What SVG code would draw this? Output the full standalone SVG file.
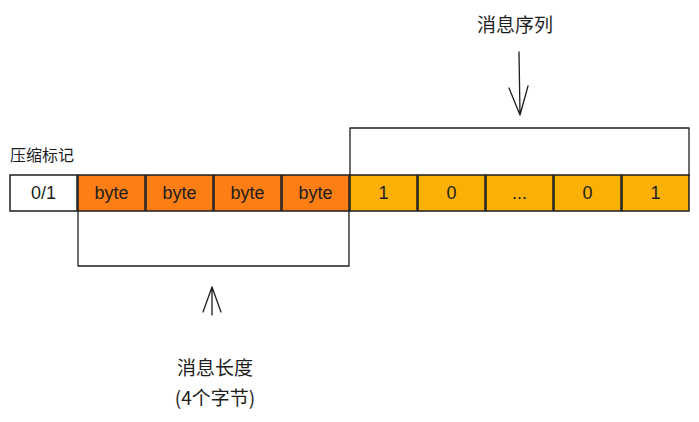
<svg xmlns="http://www.w3.org/2000/svg" width="699" height="422" viewBox="0 0 699 422">
<style>
.box{stroke:#1e1e1e;stroke-width:1.5}
.w{fill:#ffffff}.o{fill:#fd7e14}.y{fill:#fab005}
.t{font-family:"Liberation Sans","Noto Sans CJK SC",sans-serif;font-size:18px;fill:#1e1e1e;text-anchor:middle;dominant-baseline:central}
.c{font-family:"Noto Sans CJK SC",sans-serif;font-size:19px;fill:#1e1e1e}
.s{font-size:16px}
.ln{fill:none;stroke:#1e1e1e;stroke-width:1.3;stroke-linecap:round;stroke-linejoin:round}
</style>
<rect width="699" height="422" fill="#ffffff"/>
<g id="flag"><rect class="box w" x="10" y="175" width="67" height="36"/><text class="t" x="43.5" y="193">0/1</text></g>
<g id="byte1"><rect class="box o" x="78" y="175" width="67" height="36"/><text class="t" x="111.5" y="193">byte</text></g>
<g id="byte2"><rect class="box o" x="146" y="175" width="67" height="36"/><text class="t" x="179.5" y="193">byte</text></g>
<g id="byte3"><rect class="box o" x="214" y="175" width="67" height="36"/><text class="t" x="247.5" y="193">byte</text></g>
<g id="byte4"><rect class="box o" x="282" y="175" width="67" height="36"/><text class="t" x="315.5" y="193">byte</text></g>
<g id="s1"><rect class="box y" x="350" y="175" width="67" height="36"/><text class="t" x="383.5" y="193">1</text></g>
<g id="s2"><rect class="box y" x="418" y="175" width="67" height="36"/><text class="t" x="451.5" y="193">0</text></g>
<g id="s3"><rect class="box y" x="486" y="175" width="67" height="36"/><text class="t" x="519.5" y="193">...</text></g>
<g id="s4"><rect class="box y" x="554" y="175" width="67" height="36"/><text class="t" x="587.5" y="193">0</text></g>
<g id="s5"><rect class="box y" x="622" y="175" width="67" height="36"/><text class="t" x="655.5" y="193">1</text></g>
<g id="labels">
<text class="c s" x="10" y="161">压缩标记</text>
<text class="c" x="515" y="32" text-anchor="middle">消息序列</text>
<text class="c" x="215" y="375" text-anchor="middle">消息长度</text>
<text class="c" x="215" y="405" text-anchor="middle">(4个字节)</text>
</g>
<g id="connectors">
<path class="ln" d="M350,175 L350,128 L689,128 L689,175"/>
<path class="ln" d="M78,211 L78,266 L349,266 L349,211"/>
<path class="ln" d="M519,52 L520,115 M509,88 L520,115 L528,86"/>
<path class="ln" d="M212,315 L212,287 M203,312 L212,287 L221,312"/>
</g>
</svg>
